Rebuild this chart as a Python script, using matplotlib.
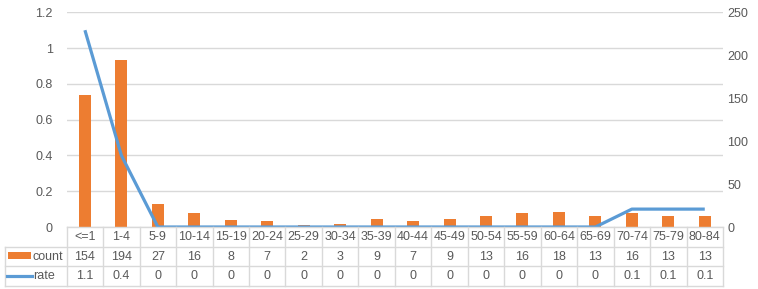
import matplotlib.pyplot as plt
import matplotlib.transforms as mtransforms
from matplotlib.patches import Rectangle
from matplotlib.lines import Line2D

categories = ['<=1', '1-4', '5-9', '10-14', '15-19', '20-24', '25-29', '30-34', '35-39',
              '40-44', '45-49', '50-54', '55-59', '60-64', '65-69', '70-74', '75-79', '80-84']
count = [154, 194, 27, 16, 8, 7, 2, 3, 9, 7, 9, 13, 16, 18, 13, 16, 13, 13]
rate = [1.1, 0.4, 0, 0, 0, 0, 0, 0, 0, 0, 0, 0, 0, 0, 0, 0.1, 0.1, 0.1]
rate_labels = ['1.1', '0.4', '0', '0', '0', '0', '0', '0', '0', '0', '0', '0', '0', '0', '0',
               '0.1', '0.1', '0.1']
left_ticks = [0, 0.2, 0.4, 0.6, 0.8, 1.0, 1.2]
left_ticklabels = ['0', '0.2', '0.4', '0.6', '0.8', '1', '1.2']
right_ticks = [0, 50, 100, 150, 200, 250]

bar_color = '#ED7D31'
line_color = '#5B9BD5'
text_color = '#595959'
grid_color = '#D9D9D9'
fs = 9

plt.rcParams['font.family'] = ['Liberation Sans', 'DejaVu Sans']
plt.rcParams['font.size'] = fs

W, H = 758, 289
fig = plt.figure(figsize=(W / 100, H / 100), dpi=100)
px_left, px_right, px_top, px_bottom = 66.7, 723, 12.3, 227
ax = fig.add_axes([px_left / W, 1 - px_bottom / H, (px_right - px_left) / W, (px_bottom - px_top) / H])

n = len(categories)
x = list(range(n))

# base axes: left scale + gridlines
ax.set_xlim(-0.5, n - 0.5)
ax.set_ylim(0, 1.2)
ax.set_yticks(left_ticks)
ax.set_yticklabels(left_ticklabels)
ax.yaxis.grid(True, color=grid_color, linewidth=1)
ax.set_axisbelow(True)
ax.set_xticks([])
ax.tick_params(axis='y', length=0, pad=10, colors=text_color, labelsize=fs)
for s in ax.spines.values():
    s.set_visible(False)

# bars on right scale
axb = ax.twinx()
axb.bar(x, count, width=0.33, color=bar_color, zorder=2)
axb.set_ylim(0, 250)
axb.set_yticks(right_ticks)
axb.tick_params(axis='y', length=0, pad=3, colors=text_color, labelsize=fs)
axb.set_xlim(-0.5, n - 0.5)
for s in axb.spines.values():
    s.set_visible(False)

# line on left scale, drawn on top
axl = ax.twinx()
axl.plot(x, rate, color=line_color, linewidth=2.3, solid_capstyle='butt')
axl.set_ylim(0, 1.2)
axl.set_xlim(-0.5, n - 0.5)
axl.set_yticks([])
axl.set_xticks([])
for s in axl.spines.values():
    s.set_visible(False)

# data table below the plot
trans = mtransforms.blended_transform_factory(axl.transData, axl.transAxes)
ph = px_bottom - px_top
pw = px_right - px_left
row_h = 19.7 / ph
rows_y = [0, -row_h, -2 * row_h, -3 * row_h]
table_left = (5 - px_left) / pw
line_kw = dict(color=grid_color, linewidth=1, clip_on=False)

axl.add_line(Line2D([0, 1], [0, 0], transform=axl.transAxes, **line_kw))
for yy in rows_y[1:]:
    axl.add_line(Line2D([table_left, 1], [yy, yy], transform=axl.transAxes, **line_kw))
axl.add_line(Line2D([table_left, table_left], [rows_y[1], rows_y[3]], transform=axl.transAxes, **line_kw))
for i in range(n + 1):
    axl.add_line(Line2D([i - 0.5, i - 0.5], [0, rows_y[3]], transform=trans, **line_kw))

for i, cat in enumerate(categories):
    axl.text(i, -0.5 * row_h, cat, transform=trans, ha='center', va='center',
             color=text_color, fontsize=fs, clip_on=False)
    axl.text(i, -1.5 * row_h, str(count[i]), transform=trans, ha='center', va='center',
             color=text_color, fontsize=fs, clip_on=False)
    axl.text(i, -2.5 * row_h, rate_labels[i], transform=trans, ha='center', va='center',
             color=text_color, fontsize=fs, clip_on=False)

# legend keys in the row headers
def fx(p):
    return (p - px_left) / pw

def fy(p):
    return (px_bottom - p) / ph

axl.add_patch(Rectangle((fx(8), fy(259)), fx(31) - fx(8), fy(252) - fy(259), transform=axl.transAxes,
                        facecolor=bar_color, edgecolor='none', clip_on=False))
axl.text(fx(32), -1.5 * row_h, 'count', transform=axl.transAxes, ha='left', va='center',
         color=text_color, fontsize=fs, clip_on=False)
axl.add_line(Line2D([fx(7), fx(32)], [fy(275.5), fy(275.5)], transform=axl.transAxes,
                    color=line_color, linewidth=2.3, clip_on=False))
axl.text(fx(33), -2.5 * row_h, 'rate', transform=axl.transAxes, ha='left', va='center',
         color=text_color, fontsize=fs, clip_on=False)

fig.savefig('out.png', dpi=100)
